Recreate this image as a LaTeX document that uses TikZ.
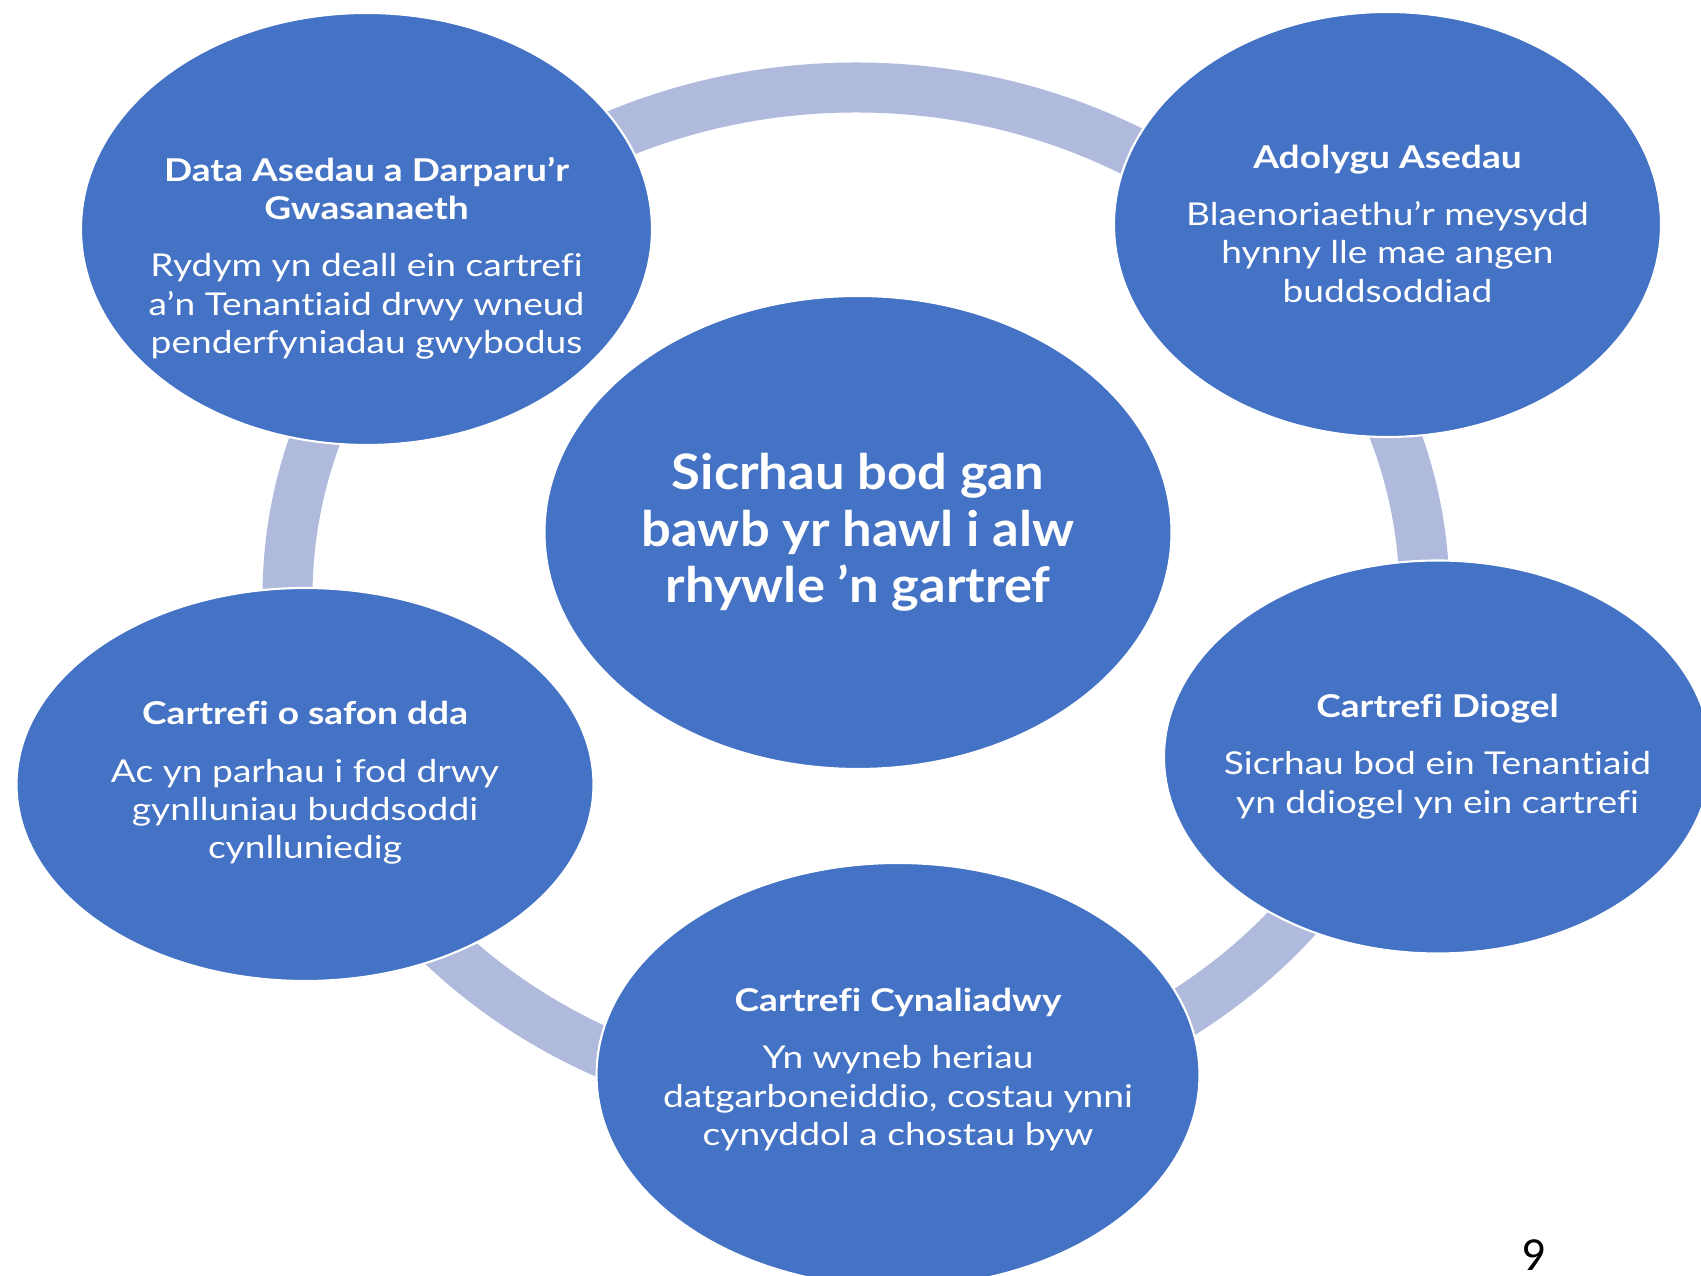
\documentclass[tikz,border=0pt]{standalone}
\usepackage{fontspec}
\setmainfont{Lato}[FakeStretch=1.18,Ligatures=NoCommon]
\newfontfamily\canolfont{Lato}[FakeStretch=1.075,Ligatures=NoCommon]
\newfontfamily\rhiffont{Carlito}
\usepackage{tikz}
\usetikzlibrary{shapes.geometric}
\definecolor{glas}{HTML}{4472C4}
\definecolor{modrwy}{HTML}{AFBADC}
\newcommand\teitl[1]{{\bfseries #1}}

\begin{document}
\begin{tikzpicture}[
  swigen/.style={ellipse,draw=white,line width=1.2pt,fill=glas,inner sep=0pt},
  testun/.style={text=white,align=center,font=\fontsize{17.9}{21.8}\selectfont}]
\useasboundingbox (0,0) rectangle (34.02,25.52);
\clip (0,0) rectangle (34.02,25.52);
% y cylch cefndir
\coordinate (modrwy) at (17.12,13.59);
\draw[modrwy,line width=1cm] (modrwy) ellipse [x radius=11.37,y radius=10.18];
% y swigod
\node (data)    at ( 7.33,20.94) [swigen,minimum width=11.42cm,minimum height=8.64cm] {};
\node (adolygu) at (27.75,21.03) [swigen,minimum width=10.94cm,minimum height=8.50cm] {};
\node (canol)   at (17.16,14.87) [swigen,minimum width=12.54cm,minimum height=9.46cm] {};
\node (safon)   at ( 6.10, 9.83) [swigen,minimum width=11.54cm,minimum height=7.86cm] {};
\node (diogel)  at (28.75,10.38) [swigen,minimum width=10.94cm,minimum height=7.86cm] {};
\node (cynal)   at (17.96, 4.02) [swigen,minimum width=12.06cm,minimum height=8.48cm] {};
% y testun
\node (datatxt)    at ( 7.33,20.36) [testun] {\teitl{Data Asedau a Darparu’r}\\\teitl{Gwasanaeth}\\[0.38cm]Rydym yn deall ein cartrefi\\a’n Tenantiaid drwy wneud\\penderfyniadau gwybodus};
\node (adolygutxt) at (27.75,21.05) [testun] {\teitl{Adolygu Asedau}\\[0.38cm]Blaenoriaethu’r meysydd\\hynny lle mae angen\\buddsoddiad};
\node (canoltxt)   at (17.16,14.87) [testun,font=\canolfont\fontsize{27.8}{32.3}\selectfont\bfseries] {Sicrhau bod gan\\bawb yr hawl i alw\\rhywle ’n gartref};
\node (safontxt)   at ( 6.10, 9.86) [testun] {\teitl{Cartrefi o safon dda}\\[0.38cm]Ac yn parhau i fod drwy\\gynlluniau buddsoddi\\cynlluniedig};
\node (diogeltxt)  at (28.75,10.39) [testun] {\teitl{Cartrefi Diogel}\\[0.38cm]Sicrhau bod ein Tenantiaid\\yn ddiogel yn ein cartrefi};
\node (cynaltxt)   at (17.96, 4.13) [testun] {\teitl{Cartrefi Cynaliadwy}\\[0.38cm]Yn wyneb heriau\\datgarboneiddio, costau ynni\\cynyddol a chostau byw};
\node (rhif) at (30.68,0.42) [inner sep=0pt,font=\rhiffont\fontsize{27}{30}\selectfont] {9};
\end{tikzpicture}
\end{document}
